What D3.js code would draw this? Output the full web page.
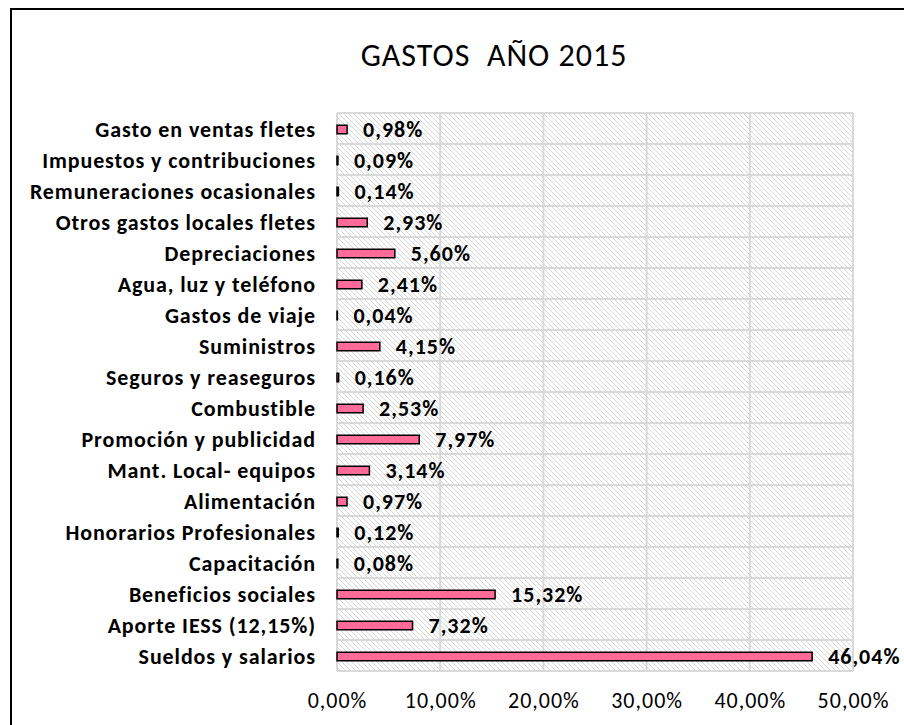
<!DOCTYPE html>
<html>
<head>
<meta charset="utf-8">
<script src="https://cdn.jsdelivr.net/npm/d3@7"></script>
<style>
  body { margin: 0; background: #fff; }
  svg { display: block; font-family: Carlito, Calibri, Lato, sans-serif; }
  .cat { font-size: 22px; font-weight: bold; fill: #000; letter-spacing: 0.9px; }
  .val { font-size: 22px; font-weight: bold; fill: #000; letter-spacing: 1px; }
  .tick-lbl { font-size: 22px; fill: #000; letter-spacing: 1px; }
  .title { font-size: 32px; fill: #000; letter-spacing: 1px; }
</style>
</head>
<body>
<div id="chart"></div>
<script>
// data (top to bottom, as in the picture)
var categories = [
  'Gasto en ventas fletes',
  'Impuestos y contribuciones',
  'Remuneraciones ocasionales',
  'Otros gastos locales fletes',
  'Depreciaciones',
  'Agua, luz y teléfono',
  'Gastos de viaje',
  'Suministros',
  'Seguros y reaseguros',
  'Combustible',
  'Promoción y publicidad',
  'Mant. Local- equipos',
  'Alimentación',
  'Honorarios Profesionales',
  'Capacitación',
  'Beneficios sociales',
  'Aporte IESS (12,15%)',
  'Sueldos y salarios'
];
var shares = [0.0098, 0.0009, 0.0014, 0.0293, 0.0560, 0.0241, 0.0004, 0.0415, 0.0016,
              0.0253, 0.0797, 0.0314, 0.0097, 0.0012, 0.0008, 0.1532, 0.0732, 0.4604];
var ticks = [0, 0.1, 0.2, 0.3, 0.4, 0.5];

(function (d3) {
  'use strict';
  var width = 904, height = 725;
  var left = 337, right = 853, top = 113, bottom = 671;

  var es = d3.formatLocale({ decimal: ',', thousands: '.', grouping: [3], currency: ['', '€'] });
  var pct = es.format('.2%');

  var svg = d3.select('#chart').append('svg')
    .attr('width', width)
    .attr('height', height);

  // hatch used behind the plot
  var pat = svg.append('defs').append('pattern')
    .attr('id', 'hatch')
    .attr('patternUnits', 'userSpaceOnUse')
    .attr('width', 5).attr('height', 5);
  pat.append('rect').attr('width', 5).attr('height', 5).attr('fill', '#fff');
  pat.append('path')
    .attr('d', 'M0,0 L5,5 M-1,4 L1,6 M4,-1 L6,1')
    .attr('stroke', '#d6d6d6')
    .attr('stroke-width', 1);

  // outer frame (goes past the window on the right and bottom)
  svg.append('rect')
    .attr('x', 11).attr('y', 9)
    .attr('width', 1000).attr('height', 800)
    .attr('fill', '#fff')
    .attr('stroke', '#000')
    .attr('stroke-width', 2);

  svg.append('text')
    .attr('class', 'title')
    .attr('x', 494).attr('y', 66)
    .attr('text-anchor', 'middle')
    .attr('xml:space', 'preserve')
    .text('GASTOS  AÑO 2015');

  var x = d3.scaleLinear().domain([0, 0.5]).range([left, right]);
  var y = d3.scaleBand().domain(categories).range([top, bottom]);

  svg.append('rect')
    .attr('x', left).attr('y', top)
    .attr('width', right - left).attr('height', bottom - top)
    .attr('fill', 'url(#hatch)');

  // gridlines
  var grid = svg.append('g').attr('stroke', '#d9d9d9').attr('stroke-width', 2);
  grid.selectAll('line.h')
    .data(categories.concat(['__end']))
    .enter().append('line')
    .attr('class', 'h')
    .attr('x1', left).attr('x2', right)
    .attr('y1', function (d, i) { return top + i * y.bandwidth(); })
    .attr('y2', function (d, i) { return top + i * y.bandwidth(); });
  grid.selectAll('line.v')
    .data(ticks)
    .enter().append('line')
    .attr('class', 'v')
    .attr('x1', x).attr('x2', x)
    .attr('y1', top).attr('y2', bottom);

  // x axis labels, no line
  var axis = svg.append('g')
    .attr('transform', 'translate(0,' + (bottom + 37) + ')')
    .call(d3.axisBottom(x).tickValues(ticks).tickFormat(pct).tickSize(0).tickPadding(0));
  axis.select('.domain').remove();
  axis.selectAll('text')
    .attr('class', 'tick-lbl')
    .attr('dy', 0);
  axis.attr('font-family', null).attr('font-size', null);

  var barH = 8.5;
  var rows = svg.append('g').selectAll('g')
    .data(categories)
    .enter().append('g')
    .attr('transform', function (d) { return 'translate(0,' + (y(d) + y.bandwidth() / 2 + 1) + ')'; });

  rows.append('rect')
    .attr('x', left)
    .attr('y', -barH / 2)
    .attr('width', function (d, i) { return x(shares[i]) - left; })
    .attr('height', barH)
    .attr('fill', '#ff6b98')
    .attr('stroke', '#000')
    .attr('stroke-width', 1.5);

  rows.append('text')
    .attr('class', 'val')
    .attr('x', function (d, i) { return x(shares[i]) + 16; })
    .attr('dy', '0.36em')
    .text(function (d, i) { return pct(shares[i]); });

  rows.append('text')
    .attr('class', 'cat')
    .attr('x', 316)
    .attr('dy', '0.34em')
    .attr('text-anchor', 'end')
    .text(function (d) { return d; });
})(window.d3);
</script>
</body>
</html>
